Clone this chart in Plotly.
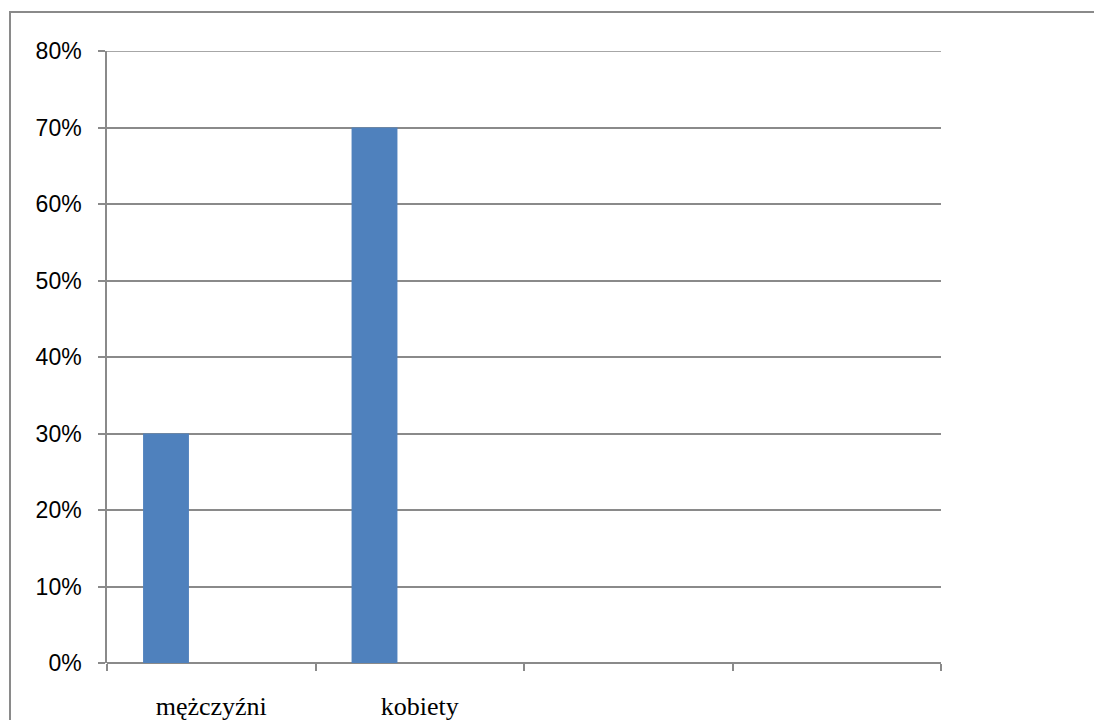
import plotly.graph_objects as go

categories = ["mężczyźni", "kobiety", " ", "  "]
values = [0.30, 0.70, None, None]
y_ticks = [0, 0.1, 0.2, 0.3, 0.4, 0.5, 0.6, 0.7, 0.8]

W, H = 1094, 720
L, R, T, B = 107, 941, 51, 663
GRAY = "#8a8a8a"

fig = go.Figure()
fig.add_trace(go.Bar(
    x=categories, y=values,
    marker=dict(color="#4F81BD", line=dict(width=0)),
    width=0.22, offset=-0.327,
))

def px(xp):
    return (xp - L) / (R - L)

def py(yp):
    return (B - yp) / (B - T)

fig.update_layout(
    width=W, height=H,
    margin=dict(l=L, r=W - R, t=T, b=H - B, pad=0, autoexpand=False),
    paper_bgcolor="white", plot_bgcolor="white",
    showlegend=False,
    shapes=[
        dict(type="rect", xref="paper", yref="paper",
             x0=px(10), x1=px(1110), y0=py(740), y1=py(12),
             line=dict(color=GRAY, width=2), fillcolor="rgba(0,0,0,0)",
             layer="below"),
        dict(type="line", xref="paper", yref="y",
             x0=0, x1=1, y0=y_ticks[-1], y1=y_ticks[-1],
             line=dict(color=GRAY, width=1.5), layer="below"),
    ],
)
fig.update_xaxes(
    type="category", categoryorder="array", categoryarray=categories,
    range=[-0.5, 3.5], tickson="boundaries", ticks="outside", ticklen=7,
    tickwidth=1.5, tickcolor=GRAY, showgrid=False, showline=False,
    tickfont=dict(family="Liberation Serif", size=26, color="black"),
    ticklabelstandoff=25, fixedrange=True, automargin=False,
)
fig.update_yaxes(
    range=[0, 0.8], tickvals=y_ticks, tickformat=".0%",
    ticks="outside", ticklen=7, tickwidth=1.5, tickcolor=GRAY,
    showgrid=True, gridcolor=GRAY, gridwidth=1.5,
    showline=True, linecolor=GRAY, linewidth=1.5,
    zeroline=True, zerolinecolor=GRAY, zerolinewidth=1.5,
    tickfont=dict(family="Liberation Sans", size=23, color="black"),
    ticklabelstandoff=12, fixedrange=True, automargin=False,
)

fig.write_html("out.html")
